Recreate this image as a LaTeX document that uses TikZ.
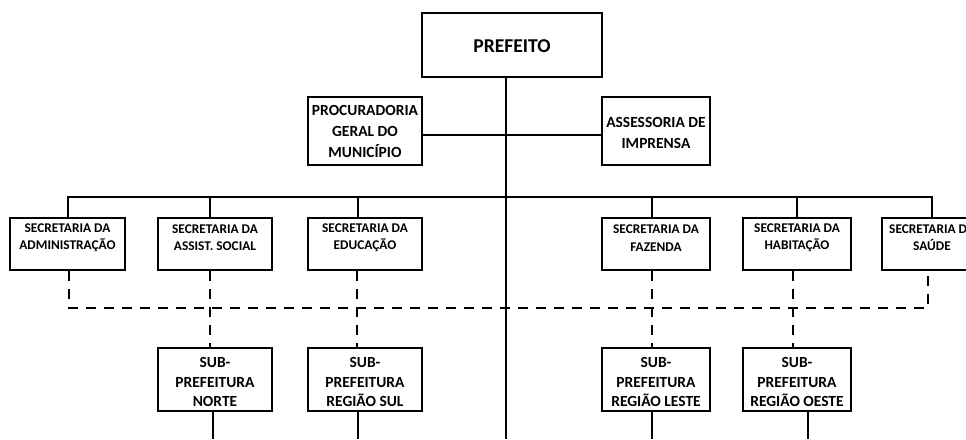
\documentclass[tikz,border=0pt]{standalone}
\usepackage{fontspec}
\setmainfont{Carlito}
\begin{document}
\begin{tikzpicture}[x=0.75pt,y=-0.75pt,
  box/.style={draw, line width=1.5pt, fill=white, inner sep=0pt},
  conn/.style={line width=2.2pt},
  dconn/.style={line width=2.2pt, dash pattern=on 7.5pt off 6pt},
  big/.style={font=\fontsize{14.7}{17}\selectfont\bfseries},
  mid/.style={font=\fontsize{11.6}{15.75}\selectfont\bfseries, align=center, inner sep=0pt},
  sec/.style={font=\fontsize{10}{13}\selectfont\bfseries, align=center, inner sep=0pt},
  subt/.style={font=\fontsize{11.6}{14.6}\selectfont\bfseries, align=center, inner sep=0pt},
]
\useasboundingbox (0,0) rectangle (966,439);
\clip (0,0) rectangle (966,439);

% boxes
\node[box, minimum width=135pt, minimum height=48pt] (pref) at (512,45) {};
\node[box, minimum width=85.5pt, minimum height=51pt] (proc) at (365,131) {};
\node[box, minimum width=81pt, minimum height=51pt] (ass) at (656,131) {};

\node[box, minimum width=86.25pt, minimum height=39pt] (adm) at (67.5,244) {};
\node[box, minimum width=85.5pt, minimum height=39pt] (assist) at (215,244) {};
\node[box, minimum width=85.5pt, minimum height=39pt] (educ) at (365,244) {};
\node[box, minimum width=81pt, minimum height=39pt] (faz) at (656,244) {};
\node[box, minimum width=81pt, minimum height=39pt] (hab) at (797,244) {};
\node[box, minimum width=78pt, minimum height=39pt] (saude) at (934,244) {};

\node[box, minimum width=85.5pt, minimum height=47.25pt] (norte) at (215,379.5) {};
\node[box, minimum width=85.5pt, minimum height=47.25pt] (sul) at (365,379.5) {};
\node[box, minimum width=81pt, minimum height=47.25pt] (leste) at (656,379.5) {};
\node[box, minimum width=81pt, minimum height=47.25pt] (oeste) at (797,379.5) {};

% texts
\node[big] (tpref) at (512,46) {PREFEITO};
\node[mid] (tproc) at (365,131) {PROCURADORIA\\GERAL DO\\MUNICÍPIO};
\node[mid] (tass) at (656,132.5) {ASSESSORIA DE\\IMPRENSA};

\node[sec] (tadm) at (67.5,238) {SECRETARIA DA\\ADMINISTRAÇÃO};
\node[sec] (tassist) at (215,238) {SECRETARIA DA\\ASSIST. SOCIAL};
\node[sec] (teduc) at (365,238) {SECRETARIA DA\\EDUCAÇÃO};
\node[sec] (tfaz) at (656,238) {SECRETARIA DA\\FAZENDA};
\node[sec] (thab) at (797,238) {SECRETARIA DA\\HABITAÇÃO};
\node[sec] (tsaude) at (932,238) {SECRETARIA DA\\SAÚDE};

\node[subt] (tnorte) at (215,382) {SUB-\\PREFEITURA\\NORTE};
\node[subt] (tsul) at (365,382) {SUB-\\PREFEITURA\\REGIÃO SUL};
\node[subt] (tleste) at (656,382) {SUB-\\PREFEITURA\\REGIÃO LESTE};
\node[subt] (toeste) at (797,382) {SUB-\\PREFEITURA\\REGIÃO OESTE};

% coordinates
\coordinate (tb) at (506,439);
\coordinate (mj) at (506,135);
\coordinate (s1) at (68,197);
\coordinate (s2) at (210,197);
\coordinate (s3) at (358,197);
\coordinate (s4) at (652,197);
\coordinate (s5) at (797,197);
\coordinate (s6) at (932,197);
\coordinate (d1) at (69,308);
\coordinate (d2) at (210,308);
\coordinate (d3) at (357,308);
\coordinate (d4) at (652,308);
\coordinate (d5) at (793,308);
\coordinate (d6) at (928,308);
\coordinate (e1) at (213,439);
\coordinate (e2) at (358,439);
\coordinate (e3) at (652,439);
\coordinate (e4) at (808,439);

% dashed links
\draw[dconn] (d1 |- adm.south) -- (d1) -- (d6) -- (d6 |- saude.south);
\draw[dconn] (assist.south -| d2) -- (norte.north -| d2);
\draw[dconn] (educ.south -| d3) -- (sul.north -| d3);
\draw[dconn] (faz.south -| d4) -- (leste.north -| d4);
\draw[dconn] (hab.south -| d5) -- (oeste.north -| d5);

% solid links
\draw[conn] (pref.south -| tb) -- (tb);
\draw[conn] (mj -| proc.east) -- (mj -| ass.west);
\draw[conn] (s1 |- adm.north) -- (s1) -- (s6) -- (s6 |- saude.north);
\draw[conn] (s2) -- (s2 |- assist.north);
\draw[conn] (s3) -- (s3 |- educ.north);
\draw[conn] (s4) -- (s4 |- faz.north);
\draw[conn] (s5) -- (s5 |- hab.north);
\draw[conn] (norte.south -| e1) -- (e1);
\draw[conn] (sul.south -| e2) -- (e2);
\draw[conn] (leste.south -| e3) -- (e3);
\draw[conn] (oeste.south -| e4) -- (e4);
\end{tikzpicture}
\end{document}
